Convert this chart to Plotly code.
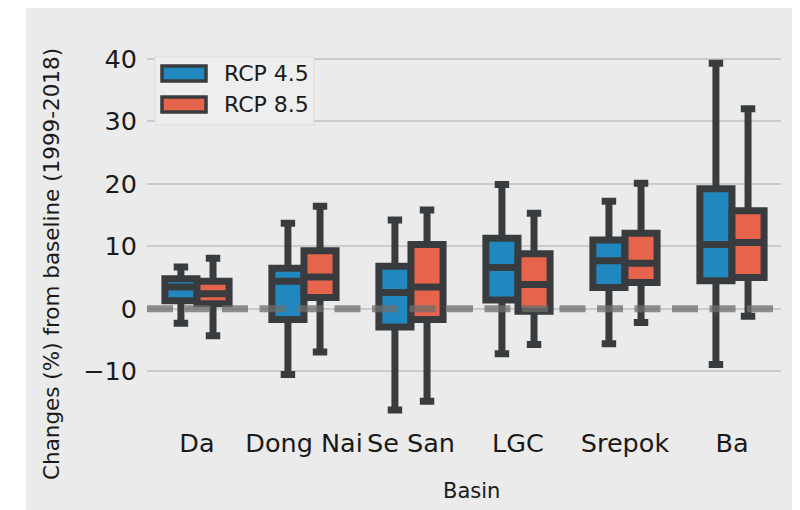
import plotly.graph_objects as go

# ---------------- data ----------------
basins = ["Da", "Dong Nai", "Se San", "LGC", "Srepok", "Ba"]

rcp45_lower = [-2.3, -10.5, -16.2, -7.2, -5.6, -8.9]
rcp45_q1 = [1.3, -1.7, -2.9, 1.4, 3.4, 4.5]
rcp45_median = [3.5, 4.4, 2.6, 6.6, 7.7, 10.3]
rcp45_q3 = [4.8, 6.5, 6.8, 11.3, 11.0, 19.2]
rcp45_upper = [6.7, 13.7, 14.2, 19.9, 17.2, 39.3]

rcp85_lower = [-4.3, -6.9, -14.8, -5.7, -2.2, -1.2]
rcp85_q1 = [0.8, 1.8, -1.7, -0.4, 4.2, 5.0]
rcp85_median = [2.4, 5.1, 3.5, 3.9, 7.3, 10.6]
rcp85_q3 = [4.4, 9.3, 10.3, 8.8, 12.1, 15.7]
rcp85_upper = [8.1, 16.4, 15.8, 15.3, 20.1, 32.0]

series_names = ["RCP 4.5", "RCP 8.5"]
y_ticks = [-10, 0, 10, 20, 30, 40]

# ---------------- style ----------------
BLUE = "#2188bf"
RED = "#e6644c"
DARK = "#393c3f"
BG = "#ebebeb"
GRID = "#cbcbcb"
FONT = "DejaVu Sans"
TXT = "#1a1a1a"

# page body has an 8px margin, so the figure starts at (8, 8) in the window
OFF = 8
W, H = 800 - OFF, 510 - OFF
# plot area in window pixels
PL, PR, PT, PB = 147, 781, 45, 425
ML, MR, MT, MB = PL - OFF, W - (PR - OFF), PT - OFF, H - (PB - OFF)
PW, PH = PR - PL, PB - PT


def px(xpix):
    return (xpix - PL) / PW


def py(ypix):
    return (PB - ypix) / PH


fig = go.Figure()

for name, lo, q1, med, q3, up, col in [
    (series_names[0], rcp45_lower, rcp45_q1, rcp45_median, rcp45_q3, rcp45_upper, BLUE),
    (series_names[1], rcp85_lower, rcp85_q1, rcp85_median, rcp85_q3, rcp85_upper, RED),
]:
    fig.add_trace(go.Box(
        name=name,
        x=basins,
        q1=q1, median=med, q3=q3,
        lowerfence=lo, upperfence=up,
        fillcolor=col,
        line=dict(color=DARK, width=7),
        whiskerwidth=0.45,
        boxpoints=False,
        showlegend=False,
    ))

shapes = [
    # grey figure background (white strip on the left as in reference)
    dict(type="rect", xref="paper", yref="paper",
         x0=px(26), x1=px(800), y0=py(515), y1=py(6),
         fillcolor=BG, line=dict(width=0), layer="below"),
    # dashed baseline at zero
    dict(type="line", xref="paper", yref="y", x0=0, x1=1, y0=0, y1=0,
         line=dict(color="rgba(110,110,110,0.75)", width=7, dash="26px,11.5px"),
         layer="above"),
    # legend frame
    dict(type="rect", xref="paper", yref="paper",
         x0=px(155), x1=px(314), y0=py(125), y1=py(57),
         fillcolor="#eeeeee", line=dict(color="#dcdcdc", width=1), layer="above"),
    # legend patches
    dict(type="rect", xref="paper", yref="paper",
         x0=px(162), x1=px(206), y0=py(81), y1=py(66),
         fillcolor=BLUE, line=dict(color=DARK, width=3.5), layer="above"),
    dict(type="rect", xref="paper", yref="paper",
         x0=px(162), x1=px(206), y0=py(112), y1=py(97),
         fillcolor=RED, line=dict(color=DARK, width=3.5), layer="above"),
]

annotations = [
    dict(text=series_names[0], xref="paper", yref="paper", x=px(222), y=py(73.5),
         xanchor="left", yanchor="middle", showarrow=False,
         font=dict(family=FONT, size=22, color=TXT)),
    dict(text=series_names[1], xref="paper", yref="paper", x=px(222), y=py(104.5),
         xanchor="left", yanchor="middle", showarrow=False,
         font=dict(family=FONT, size=22, color=TXT)),
    dict(text="Changes (%) from baseline (1999-2018)", xref="paper", yref="paper",
         x=px(51), y=py(264), textangle=-90, xanchor="center", yanchor="middle",
         showarrow=False, font=dict(family=FONT, size=21.5, color=TXT)),
    dict(text="Basin", xref="paper", yref="paper", x=px(471), y=py(491),
         xanchor="center", yanchor="middle", showarrow=False,
         font=dict(family=FONT, size=21, color=TXT)),
]

fig.update_layout(
    width=W, height=H,
    margin=dict(l=ML, r=MR, t=MT, b=MB, pad=0),
    paper_bgcolor="white",
    plot_bgcolor="rgba(0,0,0,0)",
    boxmode="group",
    boxgap=0.4,
    boxgroupgap=0.0,
    font=dict(family=FONT, color=TXT),
    shapes=shapes,
    annotations=annotations,
    xaxis=dict(
        type="category",
        range=[-0.467, 5.458],
        showgrid=False, zeroline=False, showline=False,
        ticks="",
        tickfont=dict(family=FONT, size=25.5, color=TXT),
    ),
    yaxis=dict(
        range=[-18.6, 42.2],
        tickvals=y_ticks,
        showgrid=True, gridcolor=GRID, gridwidth=1.5,
        zeroline=False, showline=False,
        ticks="outside", ticklen=4, tickcolor="rgba(0,0,0,0)",
        tickfont=dict(family=FONT, size=25.5, color=TXT),
    ),
)

fig.write_html("out.html")
